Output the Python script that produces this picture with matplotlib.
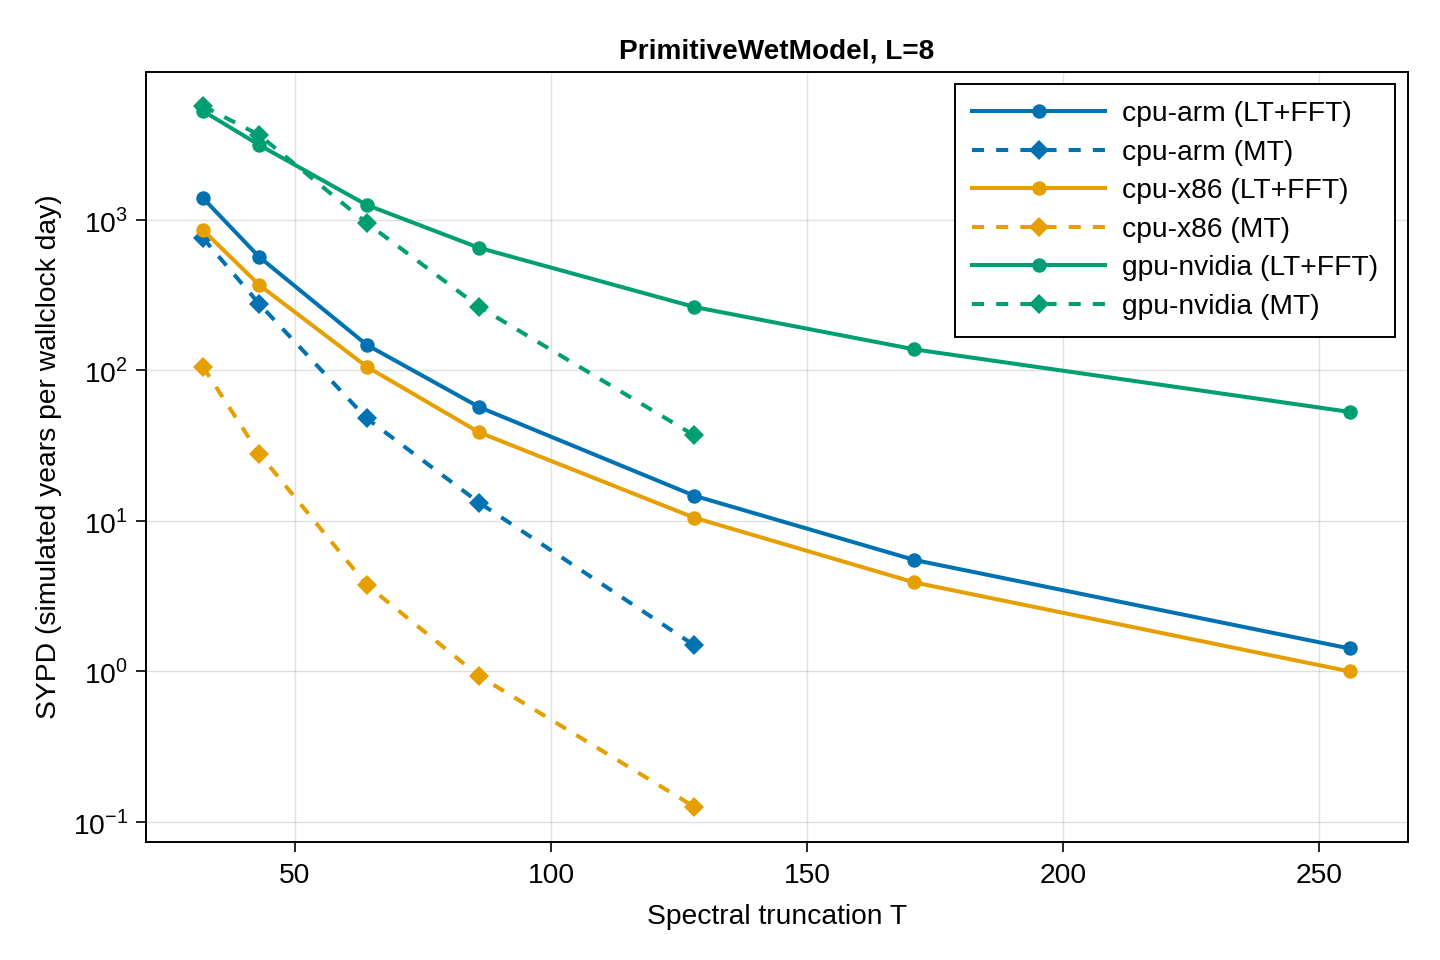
import numpy as np
import matplotlib.pyplot as plt

# spectral truncations
trunc = [32, 43, 64, 86, 128, 171, 256]
trunc_mt = [32, 43, 64, 86, 128]

arm_ltfft = [1400, 568, 148, 57, 14.7, 5.5, 1.42]
arm_mt = [760, 277, 48, 13.2, 1.49]
x86_ltfft = [858, 370, 106, 38.7, 10.5, 3.9, 1.0]
x86_mt = [106, 28, 3.76, 0.93, 0.126]
gpu_ltfft = [5300, 3150, 1258, 652, 264, 138, 53]
gpu_mt = [5720, 3670, 955, 264, 37]

blue = '#0072B2'
orange = '#E69F00'
green = '#009E73'

plt.rcParams['font.family'] = ['Liberation Sans', 'DejaVu Sans']
plt.rcParams['font.size'] = 10.2
plt.rcParams['mathtext.fontset'] = 'custom'
plt.rcParams['mathtext.rm'] = 'Liberation Sans'

fig = plt.figure(figsize=(7.2, 4.8), dpi=200)
ax = fig.add_axes([0.1014, 0.123, 0.8764, 0.802])

lw = 1.45
dash = (3, 3)

series = [
    (trunc, arm_ltfft, blue, '-', 'o', 'cpu-arm (LT+FFT)'),
    (trunc_mt, arm_mt, blue, '--', 'D', 'cpu-arm (MT)'),
    (trunc, x86_ltfft, orange, '-', 'o', 'cpu-x86 (LT+FFT)'),
    (trunc_mt, x86_mt, orange, '--', 'D', 'cpu-x86 (MT)'),
    (trunc, gpu_ltfft, green, '-', 'o', 'gpu-nvidia (LT+FFT)'),
    (trunc_mt, gpu_mt, green, '--', 'D', 'gpu-nvidia (MT)'),
]

for x, y, c, ls, m, lab in series:
    msz = 5.2 if m == 'o' else 4.9
    line, = ax.plot(x, y, color=c, linestyle=ls, marker=m, markersize=msz,
                    linewidth=lw, label=lab, markeredgewidth=0)
    if ls == '--':
        line.set_dashes(dash)

ax.set_yscale('log')
ax.set_xlim(20.9, 267.4)
ax.set_ylim(10**-1.133, 10**3.983)
ax.set_xticks([50, 100, 150, 200, 250])
ax.set_yticks([0.1, 1, 10, 100, 1000])
ax.set_yticklabels([r'$10^{-1}$', r'$10^{0}$', r'$10^{1}$', r'$10^{2}$', r'$10^{3}$'])
ax.minorticks_off()
ax.grid(True, color='#000000', alpha=0.12, linewidth=0.5)
ax.set_axisbelow(True)
ax.tick_params(direction='out', length=3.5, width=0.6, pad=3)
ax.tick_params(axis='x', pad=4)
for s in ax.spines.values():
    s.set_linewidth(0.7)

ax.set_xlabel('Spectral truncation T', labelpad=5.5)
ax.set_ylabel('SYPD (simulated years per wallclock day)', labelpad=4)
ax.set_title('PrimitiveWetModel, L=8', fontweight='bold', pad=5, fontsize=10.1)

leg = ax.legend(loc='upper right', handlelength=4.7, fancybox=False, framealpha=1,
                edgecolor='black', borderpad=0.6, labelspacing=0.44,
                handletextpad=0.6, borderaxespad=0, bbox_to_anchor=(0.99, 0.984))
leg.get_frame().set_linewidth(0.7)

fig.savefig('out.png', dpi=200)
